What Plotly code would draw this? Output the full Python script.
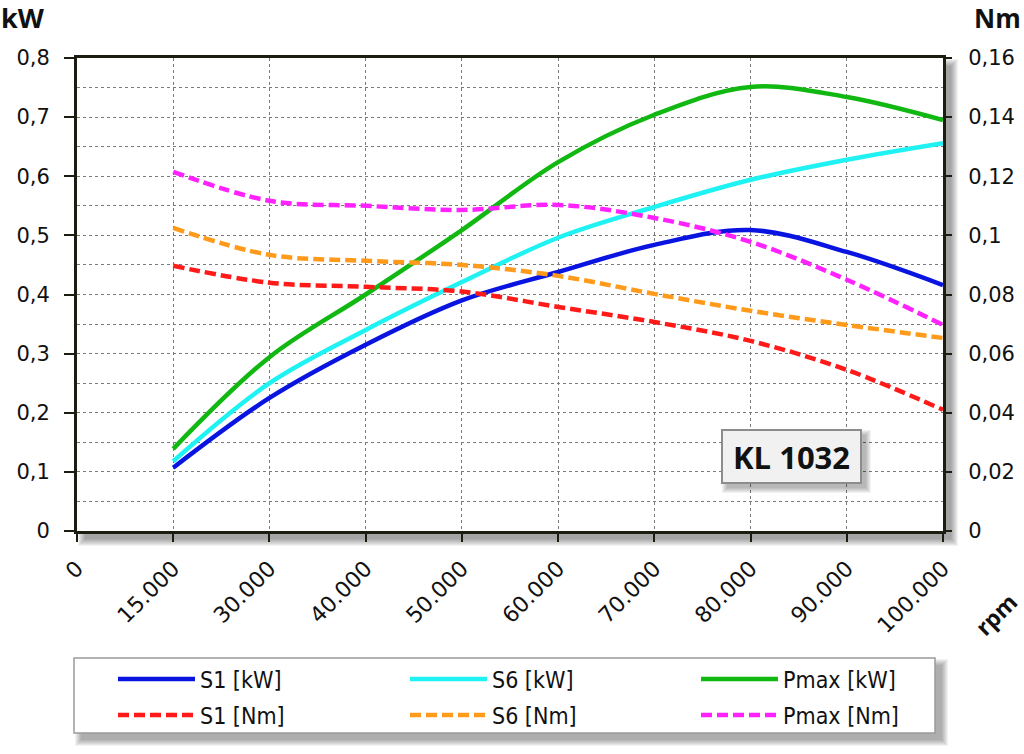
import plotly.graph_objects as go

# ---------------- data ----------------
x_labels = ["0", "15.000", "30.000", "40.000", "50.000", "60.000",
            "70.000", "80.000", "90.000", "100.000"]
rpm = x_labels[1:]

s1_kw = [0.107, 0.225, 0.315, 0.390, 0.438, 0.484, 0.509, 0.472, 0.416]
s6_kw = [0.118, 0.250, 0.340, 0.421, 0.496, 0.548, 0.594, 0.628, 0.656]
pmax_kw = [0.139, 0.294, 0.400, 0.509, 0.624, 0.704, 0.751, 0.734, 0.695]

s1_nm = [0.0897, 0.0840, 0.0826, 0.0810, 0.0758, 0.0707, 0.0643, 0.0545, 0.0410]
s6_nm = [0.1025, 0.0934, 0.0914, 0.0900, 0.0863, 0.0802, 0.0745, 0.0697, 0.0653]
pmax_nm = [0.1215, 0.1117, 0.1100, 0.1086, 0.1103, 0.1059, 0.0978, 0.0850, 0.0697]

# ---------------- layout helpers ----------------
W, H = 1024, 754
PL, PR, PT, PB = 77, 943, 58, 531


def X(px):
    return (px - PL) / (PR - PL)


def Y(py):
    return (PB - py) / (PB - PT)


YTICK_FONT = dict(family="DejaVu Sans, sans-serif", size=21, color="#111")
XTICK_FONT = dict(family="DejaVu Sans, sans-serif", size=22, color="#111")
LEG_FONT = dict(family="DejaVu Sans Condensed, Liberation Sans Narrow, Noto Sans, sans-serif",
                size=23, color="#111")
FRAME = "#1c1c10"

fig = go.Figure()

kw_series = [("S1 [kW]", s1_kw, "#0a14e0"),
             ("S6 [kW]", s6_kw, "#1ef2f2"),
             ("Pmax [kW]", pmax_kw, "#12b812")]
nm_series = [("S1 [Nm]", s1_nm, "#ff1a1a"),
             ("S6 [Nm]", s6_nm, "#ff9a1a"),
             ("Pmax [Nm]", pmax_nm, "#ff22ff")]

# legend slots: one small legend per entry (column x of symbol start, row centre y)
col_x = [113, 405, 696]
row_y = [679, 715]
legend_layouts = {}
slot = 0
for r, group in enumerate([kw_series, nm_series]):
    for c, (name, vals, col) in enumerate(group):
        slot += 1
        key = "legend" if slot == 1 else f"legend{slot}"
        legend_layouts[key] = dict(
            x=X(col_x[c]), y=Y(row_y[r]), xanchor="left", yanchor="middle",
            orientation="h", bgcolor="rgba(0,0,0,0)", font=LEG_FONT, itemwidth=77,
            visible=True)
        line = dict(color=col, width=4.5, shape="spline", smoothing=1.0)
        if r == 1:
            line["dash"] = "11px,5px"
        fig.add_trace(go.Scatter(x=rpm, y=vals, name=name, mode="lines", line=line,
                                 yaxis="y" if r == 0 else "y2", legend=key,
                                 showlegend=True))

# ---------------- shapes (shadows, boxes) ----------------
shapes = []


def shadow(x0, y0, x1, y1, layer, dx=8, dy=8, n=8, op=0.05):
    for k in range(n):
        shapes.append(dict(type="rect", xref="paper", yref="paper", layer=layer,
                           x0=X(x0 + dx - k), x1=X(x1 + dx + k),
                           y0=Y(y1 + dy + k), y1=Y(y0 + dy - k),
                           fillcolor="black", opacity=op, line=dict(width=0)))


# plot-area shadow and white cover
shadow(PL, PT, PR, PB, "below")
shapes.append(dict(type="rect", xref="paper", yref="paper", layer="below",
                   x0=0, x1=1, y0=0, y1=1, fillcolor="white", line=dict(width=0)))

# legend box
LX0, LY0, LX1, LY1 = 74, 658, 935, 733
shadow(LX0, LY0, LX1, LY1, "below", dx=7, dy=7, n=7, op=0.05)
shapes.append(dict(type="rect", xref="paper", yref="paper", layer="below",
                   x0=X(LX0), x1=X(LX1), y0=Y(LY1), y1=Y(LY0),
                   fillcolor="white", line=dict(color="#9a9a9a", width=1.5)))

# KL box
KX0, KY0, KX1, KY1 = 722, 430, 861, 483
shadow(KX0, KY0, KX1, KY1, "above", dx=5, dy=5, n=6, op=0.05)
shapes.append(dict(type="rect", xref="paper", yref="paper", layer="above",
                   x0=X(KX0), x1=X(KX1), y0=Y(KY1), y1=Y(KY0),
                   fillcolor="#f1f1f1", line=dict(color="#8c8c8c", width=2)))

BOLD = "Open Sans, sans-serif"
annotations = [
    dict(text="<b>KL 1032</b>", xref="paper", yref="paper",
         x=X((KX0 + KX1) / 2), y=Y((KY0 + KY1) / 2), xanchor="center", yanchor="middle",
         showarrow=False, font=dict(family=BOLD, size=31, color="#111")),
    dict(text="<b>kW</b>", xref="paper", yref="paper", x=X(-1), y=Y(18),
         xanchor="left", yanchor="middle", showarrow=False,
         font=dict(family=BOLD, size=27, color="#111")),
    dict(text="<b>Nm</b>", xref="paper", yref="paper", x=X(1023), y=Y(18),
         xanchor="right", yanchor="middle", showarrow=False,
         font=dict(family=BOLD, size=26, color="#111")),
    dict(text="<b>rpm</b>", xref="paper", yref="paper", x=X(996), y=Y(614),
         xanchor="center", yanchor="middle", showarrow=False, textangle=-45,
         font=dict(family=BOLD, size=23, color="#111")),
]

grid_common = dict(gridcolor="#7a7a7a", gridwidth=1, griddash="3px,3px")

fig.update_layout(
    width=W, height=H,
    margin=dict(l=PL, r=W - PR, t=PT, b=H - PB, autoexpand=False),
    paper_bgcolor="white", plot_bgcolor="white",
    separators=",.", showlegend=True,
    shapes=shapes, annotations=annotations,
    xaxis=dict(type="category", categoryorder="array", categoryarray=x_labels,
               tickvals=x_labels, ticktext=x_labels, range=[0, 9],
               tickangle=-45, tickfont=XTICK_FONT, ticklabelstandoff=5,
               showgrid=True, **grid_common,
               showline=True, linecolor=FRAME, linewidth=3, mirror=True,
               ticks="outside", ticklen=8, tickwidth=2, tickcolor=FRAME,
               zeroline=False, fixedrange=True, automargin=False),
    yaxis=dict(range=[0, 0.8], dtick=0.1, tick0=0, tickfont=YTICK_FONT,
               showgrid=True, **grid_common,
               minor=dict(dtick=0.05, showgrid=True, **grid_common, ticks=""),
               showline=True, linecolor=FRAME, linewidth=3, mirror=True,
               ticks="outside", ticklen=10, tickwidth=2, tickcolor=FRAME,
               ticklabelstandoff=10,
               zeroline=False, fixedrange=True, automargin=False),
    yaxis2=dict(range=[0, 0.16], dtick=0.02, tick0=0, overlaying="y", side="right",
                tickfont=YTICK_FONT, showgrid=False, zeroline=False,
                ticks="outside", ticklen=8, tickwidth=2, tickcolor=FRAME,
                ticklabelstandoff=12, fixedrange=True, automargin=False),
    **legend_layouts,
)

fig.write_html("out.html", config={"displayModeBar": False},
               post_script="document.body.style.margin='0';document.body.style.overflow='hidden';")
